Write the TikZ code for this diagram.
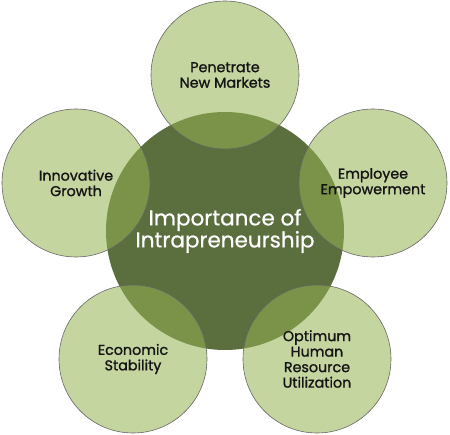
\documentclass[tikz,border=0pt]{standalone}
\usepackage{fontspec}
\setmainfont{Poppins}
\newfontfamily\outerfont[FakeBold=1.2]{Poppins}
\newfontfamily\hubfont[FakeBold=0.6]{Poppins}
\definecolor{darkg}{RGB}{91,110,62}
\definecolor{midg}{RGB}{148,179,82}
\definecolor{txt}{RGB}{20,20,20}
\begin{document}
\begin{tikzpicture}[x=1pt,y=-1pt,
  hub/.style={circle, minimum size=238pt, inner sep=0pt, fill=darkg, text=white, align=center,
    font=\hubfont\fontsize{21.5}{22}\selectfont},
  outer/.style={circle, minimum size=148pt, inner sep=0pt, fill=midg, fill opacity=0.55,
    text opacity=1, draw=black!60, draw opacity=1, line width=0.6pt, text=txt, align=center,
    font=\outerfont\fontsize{14.3}{15.5}\selectfont}]
\useasboundingbox (0,0) rectangle (450,435);
\node[hub] (c) at (225,231) {Importance of\\Intrapreneurship};
\node[outer] (t)  at (225,75)  {Penetrate\\New Markets};
\node[outer] (l)  at (76,183)  {Innovative\\Growth};
\node[outer] (r)  at (373,183) {Employee\\Empowerment};
\node[outer] (bl) at (133,359) {Economic\\Stability};
\node[outer] (br) at (317,359) {Optimum\\Human\\Resource\\Utilization};
\end{tikzpicture}
\end{document}
